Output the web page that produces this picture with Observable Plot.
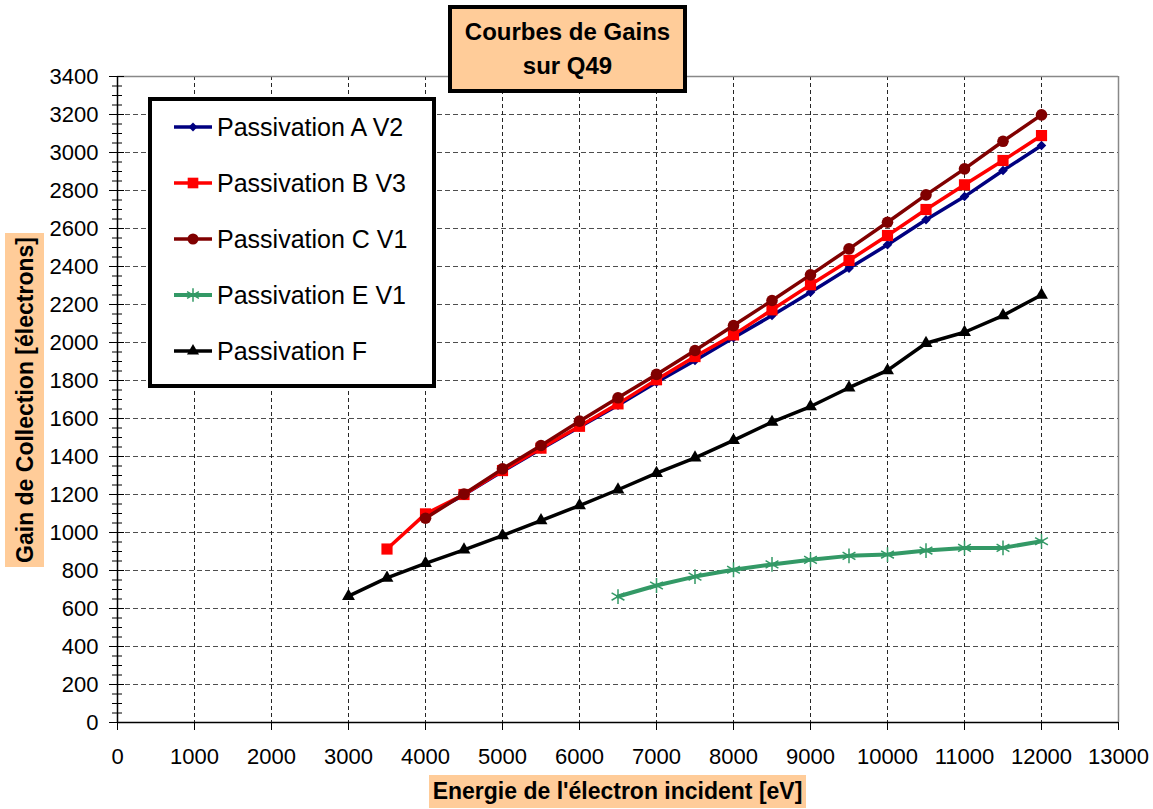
<!DOCTYPE html>
<html><head><meta charset="utf-8">
<script src="https://cdn.jsdelivr.net/npm/d3@7"></script>
<script src="https://cdn.jsdelivr.net/npm/@observablehq/plot@0.6"></script>
<style>
body{margin:0;background:#fff;font-family:"Liberation Sans",Arial,sans-serif;}
#wrap{position:relative;width:1153px;height:809px;overflow:hidden;}
#wrap svg.plot{position:absolute;left:0;top:0;}
.title{position:absolute;left:448px;top:5px;width:239px;height:88px;box-sizing:border-box;border:4px solid #000;background:#FFCC99;
  display:flex;flex-direction:column;align-items:center;justify-content:center;font-weight:bold;font-size:24px;line-height:34px;color:#000;}
.ylab{position:absolute;left:5px;top:233px;width:39px;height:334px;background:#FFCC99;}
.ylab span{position:absolute;left:50%;top:50%;transform:translate(-50%,-50%) rotate(-90deg);white-space:nowrap;font-weight:bold;font-size:23px;color:#000;}
.xlab{position:absolute;left:429px;top:775px;width:377px;height:33px;background:#FFCC99;display:flex;align-items:center;justify-content:center;
  font-weight:bold;font-size:23px;white-space:nowrap;color:#000;}
.legend{position:absolute;left:148px;top:97px;width:288px;height:291px;box-sizing:border-box;border:4px solid #000;background:#fff;}
.legend svg{position:absolute;left:0;top:0;}
</style></head><body>
<div id="wrap"></div>
<script>
// ---- Data ----
const seriesNames = ["Passivation A V2", "Passivation B V3", "Passivation C V1", "Passivation E V1", "Passivation F"];
const seriesColors = ["#000080", "#FF0000", "#800000", "#339966", "#000000"];

const energyA = [4000,4500,5000,5500,6000,6500,7000,7500,8000,8500,9000,9500,10000,10500,11000,11500,12000];
const gainA   = [1088,1198,1322,1440,1555,1670,1791,1905,2025,2142,2265,2391,2514,2646,2768,2905,3037];

const energyB = [3500,4000,4500,5000,5500,6000,6500,7000,7500,8000,8500,9000,9500,10000,10500,11000,11500,12000];
const gainB   = [913,1098,1200,1326,1444,1559,1677,1804,1926,2040,2172,2304,2432,2563,2700,2830,2958,3089];

const energyC = [4000,4500,5000,5500,6000,6500,7000,7500,8000,8500,9000,9500,10000,10500,11000,11500,12000];
const gainC   = [1075,1203,1335,1458,1586,1709,1832,1958,2089,2221,2356,2493,2633,2777,2914,3059,3198];

const energyE = [6500,7000,7500,8000,8500,9000,9500,10000,10500,11000,11500,12000];
const gainE   = [663,721,768,804,832,856,877,884,905,919,919,954];

const energyF = [3000,3500,4000,4500,5000,5500,6000,6500,7000,7500,8000,8500,9000,9500,10000,10500,11000,11500,12000];
const gainF   = [665,761,838,909,984,1063,1142,1225,1312,1393,1485,1581,1663,1762,1853,1996,2054,2142,2250];

const xTicks = [0,1000,2000,3000,4000,5000,6000,7000,8000,9000,10000,11000,12000,13000];
const yTicks = [0,200,400,600,800,1000,1200,1400,1600,1800,2000,2200,2400,2600,2800,3000,3200,3400];
const yMinorStep = 50;

// ---- Build ----
const toRows = (xs, ys) => xs.map((x, i) => ({x, y: ys[i]}));
const dataA = toRows(energyA, gainA);
const dataB = toRows(energyB, gainB);
const dataC = toRows(energyC, gainC);
const dataE = toRows(energyE, gainE);
const dataF = toRows(energyF, gainF);
const yMinor = d3.range(0, 3400 + 1, yMinorStep);
const xMax = xTicks[xTicks.length - 1];
const yMax = yTicks[yTicks.length - 1];

const chart = Plot.plot({
  width: 1153, height: 809,
  marginLeft: 117, marginRight: 35, marginTop: 76, marginBottom: 87,
  x: {domain: [0, xMax]},
  y: {domain: [0, yMax]},
  style: {fontFamily: "'Liberation Sans', Arial, sans-serif", fontSize: "22px", color: "#000", background: "transparent", overflow: "visible"},
  marks: [
    Plot.gridX(xTicks.slice(1, -1), {stroke: "#000", strokeOpacity: 0.85, strokeWidth: 1, strokeDasharray: "4,3"}),
    Plot.gridY(yTicks.slice(1, -1), {stroke: "#222", strokeOpacity: 0.8, strokeWidth: 1, strokeDasharray: "5,3"}),
    Plot.ruleY([yMax], {stroke: "#888", strokeWidth: 1.5}),
    Plot.ruleX([xMax], {stroke: "#888", strokeWidth: 1.5}),
    // series A
    Plot.line(dataA, {x: "x", y: "y", stroke: seriesColors[0], strokeWidth: 3.5}),
    Plot.dot(dataA, {x: "x", y: "y", symbol: "diamond2", r: 4.3, fill: seriesColors[0], stroke: "none"}),
    // series B
    Plot.line(dataB, {x: "x", y: "y", stroke: seriesColors[1], strokeWidth: 3.5}),
    Plot.dot(dataB, {x: "x", y: "y", symbol: "square", r: 6.3, fill: seriesColors[1], stroke: "none"}),
    // series C
    Plot.line(dataC, {x: "x", y: "y", stroke: seriesColors[2], strokeWidth: 3.5}),
    Plot.dot(dataC, {x: "x", y: "y", symbol: "circle", r: 5.8, fill: seriesColors[2], stroke: "none"}),
    // series E
    Plot.line(dataE, {x: "x", y: "y", stroke: seriesColors[3], strokeWidth: 4}),
    Plot.dot(dataE, {x: "x", y: "y", symbol: "asterisk", r: 7, fill: "none", stroke: seriesColors[3], strokeWidth: 1.5}),
    // series F
    Plot.line(dataF, {x: "x", y: "y", stroke: seriesColors[4], strokeWidth: 3.5}),
    Plot.dot(dataF, {x: "x", y: "y", symbol: "triangle", r: 4.8, fill: seriesColors[4], stroke: "none"}),
    // axes
    Plot.axisX(xTicks, {tickSize: 8, tickPadding: 18, tickFormat: d => String(d), label: null, stroke: "#000"}),
    Plot.axisY(yTicks, {tickSize: 0, tickPadding: 19, tickFormat: d => String(d), label: null}),
    Plot.axisY(yTicks, {tickSize: 15, tickFormat: () => "", label: null, dx: 7, stroke: "#000"}),
    Plot.axisY(yMinor, {tickSize: 10, tickFormat: () => "", label: null, dx: 5, stroke: "#000"}),
    Plot.ruleX([0], {stroke: "#000", strokeWidth: 1.5}),
    Plot.ruleY([0], {stroke: "#000", strokeWidth: 1.5})
  ]
});
chart.classList.add("plot");
const wrap = document.getElementById("wrap");
wrap.appendChild(chart);

// Title box
const title = document.createElement("div");
title.className = "title";
title.innerHTML = "<div>Courbes de Gains</div><div>sur Q49</div>";
wrap.appendChild(title);

// Axis labels
const ylab = document.createElement("div");
ylab.className = "ylab";
ylab.innerHTML = "<span>Gain de Collection [électrons]</span>";
wrap.appendChild(ylab);
const xlab = document.createElement("div");
xlab.className = "xlab";
xlab.textContent = "Energie de l'électron incident [eV]";
wrap.appendChild(xlab);

// Legend
const legend = document.createElement("div");
legend.className = "legend";
wrap.appendChild(legend);
const symbols = [
  {type: d3.symbolDiamond2, r: 4, fill: true},
  {type: d3.symbolSquare, r: 6, fill: true},
  {type: d3.symbolCircle, r: 5.5, fill: true},
  {type: d3.symbolAsterisk, r: 6.5, fill: false},
  {type: d3.symbolTriangle, r: 4.5, fill: true}
];
const lsvg = d3.select(legend).append("svg").attr("width", 280).attr("height", 283)
  .style("font-family", "'Liberation Sans', Arial, sans-serif");
const rowY = [26, 82, 138, 194, 250];
seriesNames.forEach((name, i) => {
  const g = lsvg.append("g").attr("transform", `translate(0,${rowY[i]})`);
  g.append("line").attr("x1", 22).attr("x2", 60).attr("y1", 0).attr("y2", 0)
    .attr("stroke", seriesColors[i]).attr("stroke-width", i === 3 ? 4 : 3.5);
  const s = symbols[i];
  g.append("path").attr("transform", "translate(41,0)")
    .attr("d", d3.symbol(s.type, Math.PI * s.r * s.r)())
    .attr("fill", s.fill ? seriesColors[i] : "none")
    .attr("stroke", s.fill ? "none" : seriesColors[i])
    .attr("stroke-width", 1.5);
  g.append("text").attr("x", 65).attr("y", 0).attr("dy", "0.36em")
    .attr("font-size", 25).attr("fill", "#000").text(name);
});
</script>
</body></html>
